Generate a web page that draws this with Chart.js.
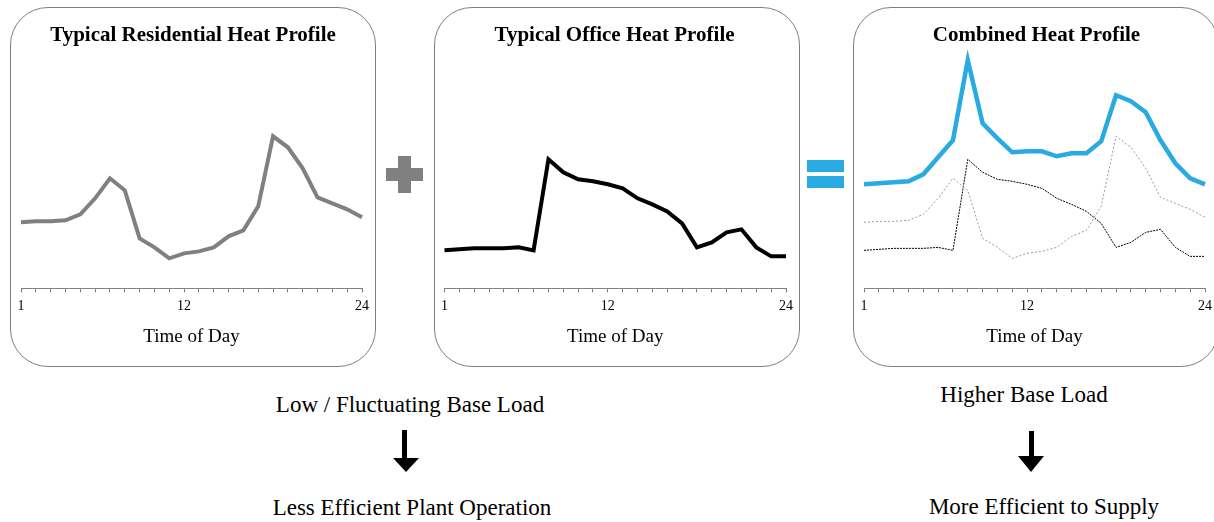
<!DOCTYPE html>
<html>
<head>
<meta charset="utf-8">
<script src="https://cdn.jsdelivr.net/npm/chart.js@4"></script>
<style>
  html, body { margin: 0; padding: 0; background: #fff; }
  body { width: 1214px; height: 522px; position: relative; overflow: hidden;
         font-family: 'Liberation Serif', 'Times New Roman', serif; color: #000; }
  .panel { position: absolute; top: 7px; width: 366px; height: 360px; box-sizing: border-box;
           border: 1px solid #7f7f7f; border-radius: 38px; }
  .panel canvas { position: absolute; left: 0; top: 0; }
  .label { position: absolute; width: 400px; text-align: center; font-size: 23px; line-height: 28px; white-space: nowrap; }
  .bar { position: absolute; }
</style>
</head>
<body>

<div class="panel" style="left:10px"><canvas id="resChart" width="364" height="358"></canvas></div>
<div class="panel" style="left:434px"><canvas id="officeChart" width="364" height="358"></canvas></div>
<div class="panel" style="left:853px"><canvas id="combChart" width="364" height="358"></canvas></div>

<!-- plus sign -->
<div class="bar" style="left:386px;top:168px;width:37px;height:13px;background:#808080"></div>
<div class="bar" style="left:398px;top:156px;width:13px;height:37px;background:#808080"></div>
<!-- equals sign -->
<div class="bar" style="left:807px;top:160px;width:37px;height:12px;background:#29abe2"></div>
<div class="bar" style="left:807px;top:176px;width:37px;height:12px;background:#29abe2"></div>

<div class="label" style="left:210px;top:391px">Low / Fluctuating Base Load</div>
<div class="label" style="left:824px;top:381px">Higher Base Load</div>
<div class="label" style="left:212px;top:494px">Less Efficient Plant Operation</div>
<div class="label" style="left:844px;top:493px">More Efficient to Supply</div>

<svg width="1214" height="522" style="position:absolute;left:0;top:0;pointer-events:none">
  <rect x="402" y="430" width="5" height="29" fill="#000"/>
  <polygon points="393,458 419,458 406,472" fill="#000"/>
  <rect x="1029" y="431" width="5" height="26" fill="#000"/>
  <polygon points="1018,456 1044,456 1031,472" fill="#000"/>
</svg>

<script>
// hours of the day
var hours = [1,2,3,4,5,6,7,8,9,10,11,12,13,14,15,16,17,18,19,20,21,22,23,24];
var shownTicks = [1, 12, 24];

// heat demand (relative units)
var residential = [66,67,67,68,74,90,110,98,50,41,30,35,37,41,52,58,82,152,141,120,91,85,79,71];
var office = [38,39,40,40,40,41,38,129,116,109,107,104,100,90,84,77,65,41,46,56,59,41,32,32];
var combined = [104,105,106,107,114,131,148,228,165,150,136,137,137,132,135,135,147,193,187,176,148,125,110,104];

var serif = "'Liberation Serif', 'Times New Roman', serif";
var blue = '#29abe2';
var grey = '#808080';

function makeOptions(title, padLeft, padRight) {
    return {
        responsive: false,
        animation: false,
        layout: { padding: { left: padLeft, right: padRight, top: 0, bottom: 14 } },
        plugins: {
            legend: { display: false },
            tooltip: { enabled: false },
            title: {
                display: true,
                text: title,
                color: '#000',
                font: { family: serif, size: 21, weight: 'bold' },
                padding: { top: 15, bottom: 0 }
            }
        },
        scales: {
            x: {
                type: 'category',
                grid: { drawOnChartArea: false, color: grey, tickLength: 4 },
                border: { color: grey },
                ticks: {
                    autoSkip: false,
                    maxRotation: 0,
                    padding: 6,
                    color: '#000',
                    font: { family: serif, size: 14 },
                    callback: function (value) {
                        var h = this.getLabelForValue(value);
                        return shownTicks.indexOf(h) >= 0 ? String(h) : '';
                    }
                },
                title: {
                    display: true,
                    text: 'Time of Day',
                    color: '#000',
                    font: { family: serif, size: 19 },
                    padding: { top: 4, bottom: 4 }
                }
            },
            y: { display: false, min: 0, max: 240 }
        }
    };
}

new Chart(document.getElementById('resChart').getContext('2d'), {
    type: 'line',
    data: {
        labels: hours,
        datasets: [
            { data: residential, borderColor: grey, borderWidth: 4, pointRadius: 0, fill: false }
        ]
    },
    options: makeOptions('Typical Residential Heat Profile', 10, 10)
});

new Chart(document.getElementById('officeChart').getContext('2d'), {
    type: 'line',
    data: {
        labels: hours,
        datasets: [
            { data: office, borderColor: '#000', borderWidth: 4, pointRadius: 0, fill: false }
        ]
    },
    options: makeOptions('Typical Office Heat Profile', 7, 12)
});

new Chart(document.getElementById('combChart').getContext('2d'), {
    type: 'line',
    data: {
        labels: hours,
        datasets: [
            { data: combined, borderColor: blue, borderWidth: 4.5, pointRadius: 0, fill: false },
            { data: residential, borderColor: '#9a9a9a', borderWidth: 1, borderDash: [2, 2], pointRadius: 0, fill: false },
            { data: office, borderColor: '#000', borderWidth: 1, borderDash: [2, 1], pointRadius: 0, fill: false }
        ]
    },
    options: makeOptions('Combined Heat Profile', 10, 9)
});
</script>
</body>
</html>
